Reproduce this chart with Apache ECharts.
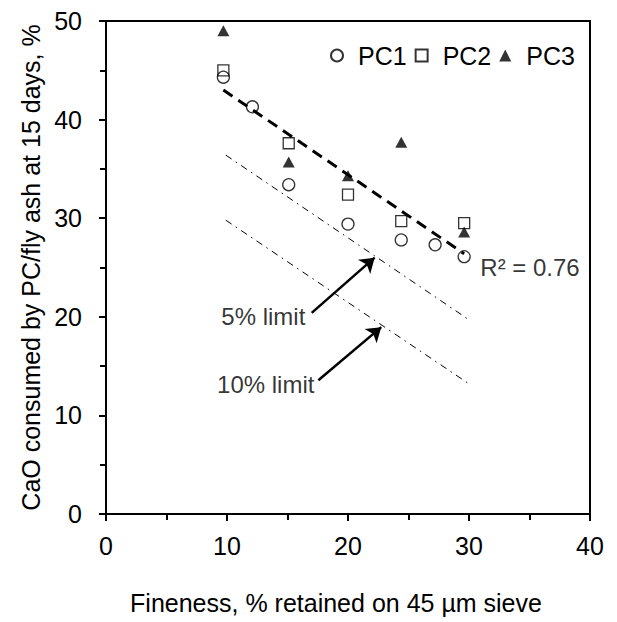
<!DOCTYPE html>
<html>
<head>
<meta charset="utf-8">
<script src="https://cdn.jsdelivr.net/npm/echarts@6/dist/echarts.min.js"></script>
<style>
html,body{margin:0;padding:0;background:#fff;}
#chart{width:617px;height:622px;}
</style>
</head>
<body>
<div id="chart"></div>
<script>
// ---- data ----
const pc1X = [9.7, 12.1, 15.1, 20.0, 24.4, 27.2, 29.6];
const pc1Y = [44.3, 41.3, 33.4, 29.4, 27.8, 27.3, 26.1];
const pc2X = [9.7, 15.1, 20.0, 24.4, 29.6];
const pc2Y = [45.0, 37.6, 32.4, 29.7, 29.5];
const pc3X = [9.7, 15.1, 20.0, 24.4, 29.6];
const pc3Y = [49.0, 35.7, 34.3, 37.7, 28.6];
const trendX = [9.7, 29.6];
const trendY = [43.0, 26.4];
const limit5X = [9.9, 30.0];
const limit5Y = [36.4, 19.7];
const limit10X = [9.9, 30.0];
const limit10Y = [29.8, 13.2];
const arrow5 = [[17.0, 20.4], [22.2, 26.0]];
const arrow10 = [[17.55, 13.56], [22.75, 18.95]];
const noteTexts = ['5% limit', '10% limit', 'R² = 0.76'];
const noteX = [13.0, 13.2, 35.04];
const noteY = [20.06, 13.16, 24.95];
const xTicks = {min: 0, max: 40, interval: 10};
const yTicks = {min: 0, max: 50, interval: 10};
const xTitle = 'Fineness, % retained on 45 µm sieve';
const yTitle = 'CaO consumed by PC/fly ash at 15 days, %';

const zip = (a, b) => a.map((v, i) => [v, b[i]]);
const FONT = 'Liberation Sans, Arial, sans-serif';

const chart = echarts.init(document.getElementById('chart'), null, {renderer: 'svg'});

const axisCommon = {
  type: 'value',
  nameLocation: 'middle',
  axisLine: {show: true, onZero: false, lineStyle: {color: '#000', width: 2}},
  axisTick: {show: true, inside: false, length: 7, lineStyle: {color: '#000', width: 2}},
  minorTick: {show: true, splitNumber: 2, length: 6, lineStyle: {color: '#000', width: 2}},
  splitLine: {show: false},
  axisLabel: {fontFamily: FONT, fontSize: 25, color: '#000'}
};

const option = {
  animation: false,
  backgroundColor: '#fff',
  grid: {left: 106, right: 27, top: 21, bottom: 108, show: true, borderColor: '#000', borderWidth: 2},
  legend: {
    left: 325, top: 38,
    itemWidth: 12, itemHeight: 12, itemGap: 8,
    textStyle: {fontFamily: FONT, fontSize: 25, color: '#000', padding: [0, 0, 0, 10]},
    data: ['PC1', 'PC2', 'PC3'],
    selectedMode: false
  },
  xAxis: Object.assign({}, axisCommon, {
    min: xTicks.min, max: xTicks.max, interval: xTicks.interval,
    name: xTitle, nameGap: 76,
    nameTextStyle: {fontFamily: FONT, fontSize: 25, color: '#000', padding: [0, 24, 0, 0]},
    axisLabel: Object.assign({}, axisCommon.axisLabel, {margin: 19})
  }),
  yAxis: Object.assign({}, axisCommon, {
    min: yTicks.min, max: yTicks.max, interval: yTicks.interval,
    name: yTitle, nameGap: 55,
    nameTextStyle: {fontFamily: FONT, fontSize: 25, color: '#000'},
    axisLabel: Object.assign({}, axisCommon.axisLabel, {margin: 24})
  }),
  series: [
    {
      name: 'trend', type: 'line', data: zip(trendX, trendY), symbol: 'none', silent: true,
      lineStyle: {color: '#000', width: 3, type: [11, 7]}, z: 1
    },
    {
      name: 'limit5', type: 'line', data: zip(limit5X, limit5Y), symbol: 'none', silent: true,
      lineStyle: {color: '#000', width: 1, type: [7, 5, 1.5, 5]}, z: 1
    },
    {
      name: 'limit10', type: 'line', data: zip(limit10X, limit10Y), symbol: 'none', silent: true,
      lineStyle: {color: '#000', width: 1, type: [7, 5, 1.5, 5]}, z: 1,
      markLine: {
        silent: true, symbol: ['none', 'arrow'], symbolSize: 14,
        label: {show: false},
        lineStyle: {color: '#000', width: 2.5, type: 'solid'},
        data: [
          [{coord: arrow5[0]}, {coord: arrow5[1]}],
          [{coord: arrow10[0]}, {coord: arrow10[1]}]
        ]
      }
    },
    {
      name: 'PC1', type: 'scatter', symbol: 'circle', symbolSize: 12, data: zip(pc1X, pc1Y),
      itemStyle: {color: 'rgba(255,255,255,0)', borderColor: '#000', borderWidth: 1.3}, z: 3
    },
    {
      name: 'PC2', type: 'scatter', symbol: 'rect', symbolSize: 11, data: zip(pc2X, pc2Y),
      itemStyle: {color: 'rgba(255,255,255,0)', borderColor: '#000', borderWidth: 1.3}, z: 3
    },
    {
      name: 'PC3', type: 'scatter', symbol: 'triangle', symbolSize: [12, 11], data: zip(pc3X, pc3Y),
      itemStyle: {color: '#000', borderColor: '#000', borderWidth: 0}, z: 3
    },
    {
      name: 'notes', type: 'scatter', symbolSize: 1, silent: true,
      itemStyle: {color: 'rgba(0,0,0,0)'},
      data: noteTexts.map((t, i) => ({name: t, value: [noteX[i], noteY[i]]})),
      label: {
        show: true, position: 'inside', formatter: p => p.name,
        fontFamily: FONT, fontSize: 24, color: '#000'
      }, z: 4
    }
  ]
};
chart.setOption(option);
</script>
</body>
</html>
